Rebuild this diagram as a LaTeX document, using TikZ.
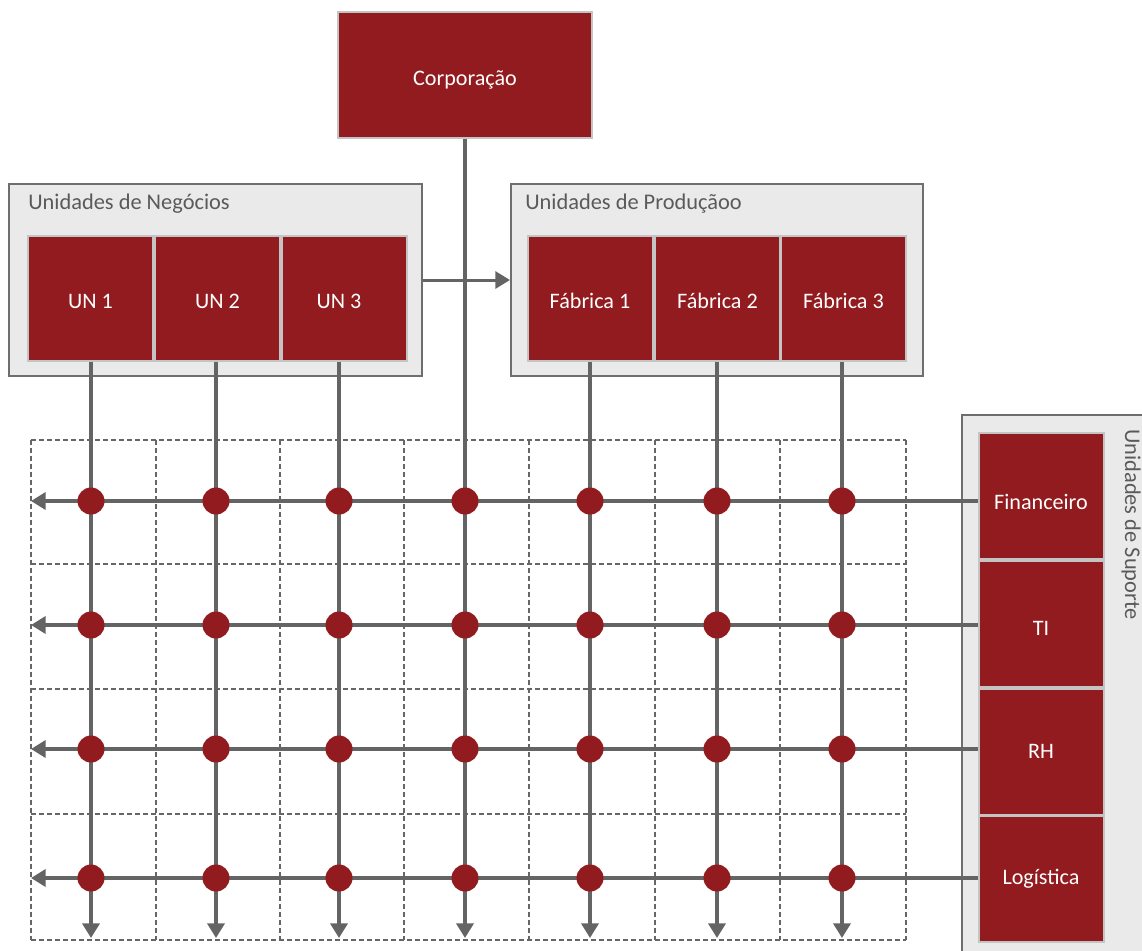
\documentclass[tikz,border=0pt]{standalone}
\usepackage{fontspec}
\setmainfont{Carlito}
\usetikzlibrary{arrows.meta}
\definecolor{bred}{HTML}{921B1F}
\definecolor{lgray}{HTML}{C4C4C4}
\definecolor{lgfill}{HTML}{EAEAEA}
\definecolor{gborder}{HTML}{6E6E6E}
\definecolor{lgline}{HTML}{646464}
\definecolor{ttext}{HTML}{5A5A5A}
\definecolor{dgray}{HTML}{666666}
\tikzset{
  unitbox/.style={fill=bred, draw=lgray, line width=1.5pt, text=white, inner sep=0pt,
    minimum width=93.75pt, minimum height=93.75pt, font=\fontsize{16.6}{20}\selectfont,
    text height=15.2pt, text depth=0pt},
  groupbox/.style={fill=lgfill, draw=gborder, line width=1.5pt, inner sep=0pt},
  grouptitle/.style={text=ttext, inner sep=0pt, font=\fontsize{16.8}{20}\selectfont},
  vline/.style={draw=lgline, line width=3pt, -{Triangle[length=11pt,width=12.75pt]}},
  dot/.style={circle, fill=bred, inner sep=0pt, minimum size=20.25pt},
  gridline/.style={draw=dgray, line width=1.8pt, dash pattern=on 3.4pt off 2.6pt},
}
\begin{document}
\begin{tikzpicture}[x=0.75pt,y=-0.75pt]
\useasboundingbox (0,0) rectangle (1142,950);
\clip (0,0) rectangle (1142,950);
\fill[white] (0,0) rectangle (1142,950);

% dashed grid
\foreach \x in {31,156,280,404,529,655,780,906} \draw[gridline] (\x,440) -- (\x,940);
\foreach \y in {440,564,689,814,940} \draw[gridline] (31,\y) -- (906,\y);

% corporation
\node[unitbox, minimum width=190.5pt, minimum height=94.5pt, text height=16pt] (corp) at (465,75) {Corporação};

% group boxes
\node[groupbox, minimum width=309.75pt, minimum height=144pt] (G1) at (215.5,280) {};
\node[grouptitle, anchor=base west] (G1t) at (28,209) {Unidades de Negócios};
\node[groupbox, minimum width=309pt, minimum height=144pt] (G2) at (717,280) {};
\node[grouptitle, anchor=base west] (G2t) at (525,209) {Unidades de Produçãoo};

\node[unitbox] (un1) at (90.5,298.5) {UN 1};
\node[unitbox] (un2) at (217.5,298.5) {UN 2};
\node[unitbox] (un3) at (344,298.5) {\kern-7.5pt UN 3};
\node[unitbox] (f1) at (590,298.5) {Fábrica 1};
\node[unitbox] (f2) at (717.5,298.5) {Fábrica 2};
\node[unitbox] (f3) at (843.5,298.5) {Fábrica 3};

% support group
\node[groupbox, minimum width=150pt, minimum height=420pt, anchor=north west] (G3) at (961,414) {};
\node[grouptitle, rotate=-90, anchor=west] (G3t) at (1131,429) {Unidades de Suporte};
\node[unitbox, minimum height=94.5pt, text height=19.7pt] (fin) at (1041,496) {Financeiro};
\node[unitbox, minimum height=94.5pt, text height=16.7pt] (ti) at (1041,624) {TI};
\node[unitbox, minimum height=94.5pt, text height=10.7pt] (rh) at (1041,751.5) {RH};
\node[unitbox, minimum height=94.5pt, text height=9.5pt] (log) at (1041,878.5) {Logística};

% arrow between groups
\draw[draw=lgline, line width=2.25pt, -{Triangle[length=11pt,width=12.75pt]}] (G1.east) -- (G2.west);

% vertical lines
\coordinate (b1) at (91,938);
\coordinate (b2) at (216,938);
\coordinate (b3) at (339,938);
\coordinate (b4) at (465,938);
\coordinate (b5) at (590,938);
\coordinate (b6) at (717,938);
\coordinate (b7) at (842,938);
\draw[vline] (un1.south -| b1) -- (b1);
\draw[vline] (un2.south -| b2) -- (b2);
\draw[vline] (un3.south -| b3) -- (b3);
\draw[vline] (corp.south -| b4) -- (b4);
\draw[vline] (f1.south -| b5) -- (b5);
\draw[vline] (f2.south -| b6) -- (b6);
\draw[vline] (f3.south -| b7) -- (b7);

% horizontal lines
\coordinate (r1) at (31,501);
\coordinate (r2) at (31,625);
\coordinate (r3) at (31,749);
\coordinate (r4) at (31,878);
\draw[vline] (fin.west |- r1) -- (r1);
\draw[vline] (ti.west |- r2) -- (r2);
\draw[vline] (rh.west |- r3) -- (r3);
\draw[vline] (log.west |- r4) -- (r4);

% intersection dots
\foreach \r in {1,2,3,4}
  \foreach \b in {1,...,7}
    \node[dot] (d\r\b) at (b\b |- r\r) {};
\end{tikzpicture}
\end{document}
